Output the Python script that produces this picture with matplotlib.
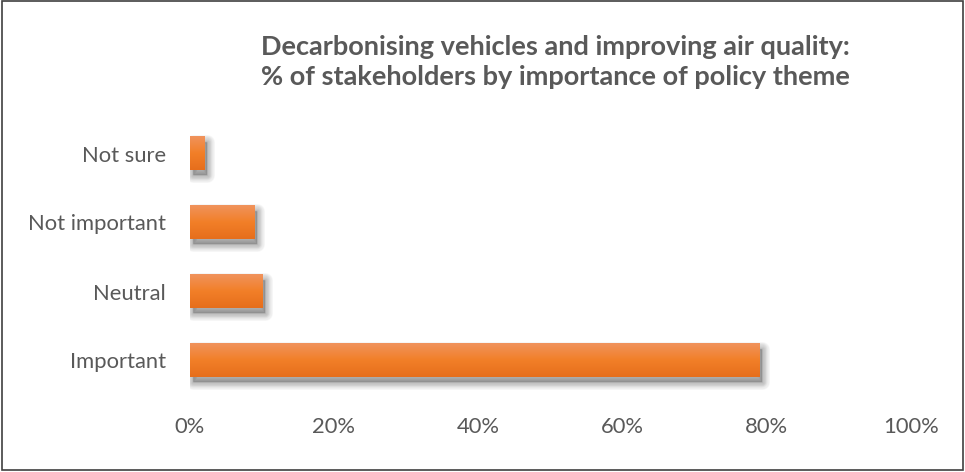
import numpy as np
import matplotlib.pyplot as plt
from matplotlib.patches import Rectangle
from matplotlib.colors import LinearSegmentedColormap
import matplotlib.transforms as mtransforms

# Stakeholder responses (share of stakeholders, %)
categories = ['Important', 'Neutral', 'Not important', 'Not sure']
shares = [79, 10, 9, 2]
ticks = [0, 20, 40, 60, 80, 100]

grey = '#595959'
plt.rcParams['font.family'] = ['Lato', 'DejaVu Sans']

fig = plt.figure(figsize=(9.65, 4.72), dpi=100)
ax = fig.add_axes([189.5 / 965, 1 - 395 / 472, (911 - 189.5) / 965, 276 / 472])

ypos = np.arange(len(categories))
bar_h = 0.48
bars = ax.barh(ypos, shares, height=bar_h, color='#F07F2A', zorder=3)

# soft drop shadow behind each bar
off = mtransforms.offset_copy(ax.transData, fig=fig, x=3, y=-5, units='dots')
for b in bars:
    x0, y0 = b.get_x(), b.get_y()
    w, h = b.get_width(), b.get_height()
    for k in range(10):
        ax.add_patch(Rectangle((x0, y0), w, h, transform=off, facecolor=(0, 0, 0, 0.022),
                               edgecolor=(0, 0, 0, 0.03), linewidth=k * 1.2,
                               joinstyle='round', zorder=2))

# vertical gradient fill, lighter at the top
grad = LinearSegmentedColormap.from_list('bar', ['#E66E1C', '#F27F28', '#F0935C'])
g = np.linspace(0, 1, 64).reshape(-1, 1)
for b in bars:
    x0, y0 = b.get_x(), b.get_y()
    w, h = b.get_width(), b.get_height()
    ax.imshow(g, cmap=grad, aspect='auto', origin='lower',
              extent=(x0, x0 + w, y0, y0 + h), zorder=4, interpolation='bilinear')

ax.set_xlim(0, 100)
ax.set_ylim(-0.5, len(categories) - 0.5)
ax.set_xticks(ticks)
ax.set_xticklabels([f'{t}%' for t in ticks])
ax.set_yticks(ypos)
ax.set_yticklabels(categories)
ax.tick_params(length=0, labelsize=15.8, colors=grey)
ax.tick_params(axis='x', pad=16)
ax.tick_params(axis='y', pad=17)
for s in ax.spines.values():
    s.set_visible(False)

fig.text(555 / 965, 1 - 62 / 472,
         'Decarbonising vehicles and improving air quality:\n% of stakeholders by importance of policy theme',
         ha='center', va='center', fontsize=19.5, fontweight='bold', color=grey, linespacing=1.32)

# outer frame
fig.add_artist(Rectangle((0.002, 0.004), 0.996, 0.993, transform=fig.transFigure,
                         fill=False, edgecolor='#404040', linewidth=1.2))

fig.savefig('out.png', dpi=100)
